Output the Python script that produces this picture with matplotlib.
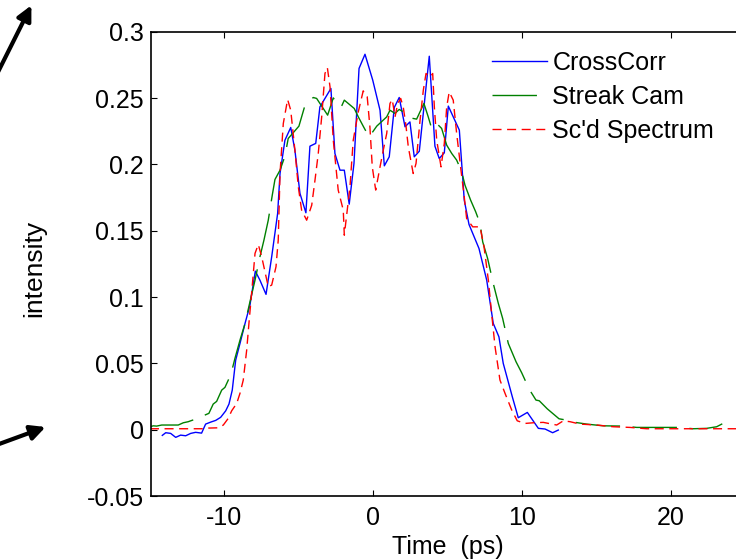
import numpy as np
import matplotlib
matplotlib.use('Agg')
from matplotlib import pyplot as plt

plt.rcParams['font.family'] = ['Liberation Sans', 'DejaVu Sans']

# CrossCorr (blue, solid)
cc_t = [-14.17, -13.94, -13.61, -13.27, -12.94, -12.60, -12.26, -11.93, -11.53, -11.26,
        -10.92, -10.58, -10.25, -9.91, -9.69, -9.47, -9.24, -8.95, -8.61, -8.28,
        -7.92, -7.61, -7.20, -6.82, -6.42, -6.26, -5.93, -5.54, -5.26, -4.92,
        -4.52, -4.25, -3.86, -3.58, -2.84, -2.57, -2.23, -1.94, -1.61, -1.29,
        -0.95, -0.55, -0.03, 0.46, 0.75, 1.08, 1.42, 1.75, 2.14, 2.47,
        2.76, 3.10, 3.77, 4.15, 4.44, 4.78, 5.05, 5.79, 6.06, 6.12,
        6.44, 7.11, 7.63, 8.07, 8.45, 8.74, 9.35, 9.75, 10.36, 11.10,
        11.55, 12.06, 12.44]
cc_v = [-0.0043, -0.0023, -0.0028, -0.0058, -0.0041, -0.0046, -0.0028, -0.0020, -0.0026, 0.0042,
        0.0057, 0.0070, 0.0093, 0.0142, 0.0193, 0.0298, 0.0524, 0.0650, 0.0801, 0.0939,
        0.1195, 0.1127, 0.1020, 0.1303, 0.1630, 0.1931, 0.2182, 0.2278, 0.2107, 0.1781,
        0.1635, 0.2137, 0.2158, 0.2433, 0.2572, 0.2082, 0.1956, 0.1956, 0.1700, 0.2007,
        0.2723, 0.2830, 0.2635, 0.2408, 0.1989, 0.2057, 0.2429, 0.2504, 0.2283, 0.2320,
        0.2057, 0.2099, 0.2815, 0.2137, 0.2044, 0.2087, 0.2439, 0.2258, 0.1830, 0.1730,
        0.1547, 0.1366, 0.1127, 0.0801, 0.0700, 0.0500, 0.0248, 0.0090, 0.0130, 0.0010,
        0.0005, -0.0023, -0.0003]

# Streak Cam (green, dash-dot)
sc_t = [-15.00, -14.78, -14.55, -14.21, -13.10, -12.76, -12.43, -11.98, -11.04, -10.75,
        -10.52, -10.18, -9.96, -9.56, -9.29, -8.95, -8.61, -8.28, -7.94, -7.61,
        -7.34, -7.05, -6.78, -6.60, -6.26, -5.93, -5.71, -4.99, -4.58, -4.29,
        -4.03, -3.80, -3.53, -3.06, -2.68, -2.35, -2.16, -1.94, -1.27, -1.00,
        -0.67, -0.28, -0.03, 0.24, 0.91, 1.13, 1.47, 1.75, 2.02, 2.36,
        2.92, 3.41, 3.70, 3.93, 4.27, 4.60, 4.94, 5.28, 5.61, 5.95,
        6.17, 6.55, 6.89, 7.18, 7.36, 7.69, 8.07, 8.41, 8.70, 9.08,
        9.60, 9.98, 10.49, 10.94, 11.16, 11.70, 12.49, 13.00, 13.45, 14.35,
        15.46, 16.81, 17.71, 19.50, 20.50, 21.51, 22.41, 23.08, 23.46]
sc_v = [0.0022, 0.0029, 0.0027, 0.0035, 0.0035, 0.0052, 0.0060, 0.0078, 0.0123, 0.0193,
        0.0213, 0.0298, 0.0319, 0.0417, 0.0537, 0.0675, 0.0801, 0.0964, 0.1127, 0.1303,
        0.1429, 0.1579, 0.1768, 0.1886, 0.1956, 0.2062, 0.2195, 0.2288, 0.2446, 0.2471,
        0.2504, 0.2497, 0.2451, 0.2371, 0.2501, 0.2446, 0.2429, 0.2484, 0.2421, 0.2358,
        0.2288, 0.2207, 0.2245, 0.2288, 0.2358, 0.2408, 0.2384, 0.2414, 0.2396, 0.2353,
        0.2341, 0.2459, 0.2358, 0.2271, 0.2308, 0.2271, 0.2145, 0.2082, 0.2032, 0.1944,
        0.1843, 0.1730, 0.1642, 0.1555, 0.1416, 0.1291, 0.1102, 0.0952, 0.0839, 0.0650,
        0.0512, 0.0429, 0.0304, 0.0223, 0.0218, 0.0157, 0.0082, 0.0072, 0.0057, 0.0042,
        0.0029, 0.0027, 0.0017, 0.0017, 0.0017, 0.0007, 0.0010, 0.0022, 0.0044]

# Sc'd Spectrum (red, dashed)
sp_t = [-15.00, -11.53, -11.08, -10.41, -10.07, -9.74, -9.51, -9.17, -8.95, -8.73,
        -8.50, -8.33, -8.17, -7.94, -7.72, -7.49, -7.27, -7.05, -6.82, -6.53,
        -6.38, -6.26, -6.04, -5.75, -5.54, -5.26, -5.03, -4.81, -4.47, -4.13,
        -3.91, -3.69, -3.46, -3.24, -3.08, -2.90, -2.68, -2.35, -2.01, -1.94,
        -1.56, -1.34, -1.00, -0.67, -0.40, -0.22, -0.06, 0.17, 0.46, 0.68,
        0.91, 1.13, 1.28, 1.47, 1.65, 1.85, 2.02, 2.20, 2.36, 2.69,
        2.88, 3.15, 3.37, 3.55, 3.82, 4.00, 4.11, 4.27, 4.56, 4.78,
        4.94, 5.11, 5.38, 5.61, 5.90, 6.12, 6.28, 6.69, 7.18, 7.45,
        7.74, 7.96, 8.19, 8.52, 8.86, 9.31, 9.68, 10.20, 10.76, 11.43,
        12.33, 12.78, 13.23, 13.90, 15.02, 16.14, 17.26, 18.38, 24.00, 25.00]
sp_v = [0.0007, 0.0007, 0.0012, 0.0014, 0.0035, 0.0085, 0.0142, 0.0198, 0.0274, 0.0374,
        0.0600, 0.0826, 0.1027, 0.1329, 0.1396, 0.1303, 0.1190, 0.1077, 0.1090, 0.1228,
        0.1429, 0.1931, 0.2308, 0.2489, 0.2408, 0.2107, 0.1830, 0.1655, 0.1579, 0.1692,
        0.1881, 0.2082, 0.2358, 0.2685, 0.2730, 0.2584, 0.2182, 0.1806, 0.1655, 0.1466,
        0.1830, 0.2182, 0.2396, 0.2554, 0.2509, 0.2283, 0.1981, 0.1806, 0.1981, 0.2107,
        0.2233, 0.2459, 0.2489, 0.2358, 0.2459, 0.2497, 0.2433, 0.2295, 0.2132, 0.1931,
        0.2007, 0.2333, 0.2559, 0.2685, 0.2659, 0.2685, 0.2433, 0.2182, 0.1981, 0.2158,
        0.2433, 0.2546, 0.2484, 0.2233, 0.1956, 0.1755, 0.1592, 0.1529, 0.1529, 0.1378,
        0.1127, 0.0876, 0.0625, 0.0374, 0.0274, 0.0148, 0.0067, 0.0047, 0.0052, 0.0055,
        0.0035, 0.0067, 0.0060, 0.0042, 0.0035, 0.0022, 0.0017, 0.0007, 0.0007, 0.0007]

labels = ["CrossCorr", "Streak Cam", "Sc'd Spectrum"]
xticks = [-10, 0, 10, 20]
yticks = [-0.05, 0, 0.05, 0.1, 0.15, 0.2, 0.25, 0.3]
ytick_labels = ["-0.05", "0", "0.05", "0.1", "0.15", "0.2", "0.25", "0.3"]

FS = 18
W, H = 736, 559
fig = plt.figure(figsize=(W / 100, H / 100), dpi=100)
# axes runs a little past the right edge of the figure, like the cropped original
ax = fig.add_axes([151 / W, 63 / H, 594.2 / W, 464.3 / H])

ax.plot(cc_t, cc_v, color='b', lw=1.0, label=labels[0])
ax.plot(sc_t, sc_v, color=(0, 0.5, 0), lw=1.0, linestyle=(0, (32, 9)), label=labels[1])
ax.plot(sp_t, sp_v, color='r', lw=1.0, linestyle=(0, (6.5, 4)), label=labels[2])

ax.set_xlim(-14.93, 25)
ax.set_ylim(-0.05, 0.3)
ax.set_xticks(xticks)
ax.set_xticklabels([str(x) for x in xticks])
ax.set_yticks(yticks)
ax.set_yticklabels(ytick_labels)
ax.tick_params(direction='in', length=4.5, width=0.8, labelsize=FS, pad=5,
               top=True, right=False)
ax.tick_params(axis='x', pad=7.5)
for side in ['left', 'top', 'bottom']:
    ax.spines[side].set_linewidth(1.2)
ax.spines['right'].set_visible(False)

ax.set_xlabel("Time  (ps)", fontsize=FS)
ax.set_ylabel("intensity", fontsize=FS + 1)
ax.xaxis.set_label_coords(0.5, -0.085)
ax.yaxis.set_label_coords(-0.176, 0.49)

ax.legend(loc='upper left', bbox_to_anchor=(492 / W, (H - 51) / H),
          bbox_transform=fig.transFigure, frameon=False, fontsize=FS,
          handlelength=2.2, handletextpad=0.22, labelspacing=0.4,
          borderpad=0, borderaxespad=0)

# the two arrows poking in from the left edge
ax.annotate("", xy=(31.4, H - 5.3), xytext=(-12, H - 92), xycoords='figure pixels',
            textcoords='figure pixels',
            arrowprops=dict(arrowstyle='-|>', lw=3, color='k', mutation_scale=22,
                            shrinkA=0, shrinkB=0), annotation_clip=False)
ax.annotate("", xy=(45.6, H - 427), xytext=(-20, H - 451), xycoords='figure pixels',
            textcoords='figure pixels',
            arrowprops=dict(arrowstyle='-|>', lw=3, color='k', mutation_scale=22,
                            shrinkA=0, shrinkB=0), annotation_clip=False)

fig.savefig("out.png", dpi=100)
